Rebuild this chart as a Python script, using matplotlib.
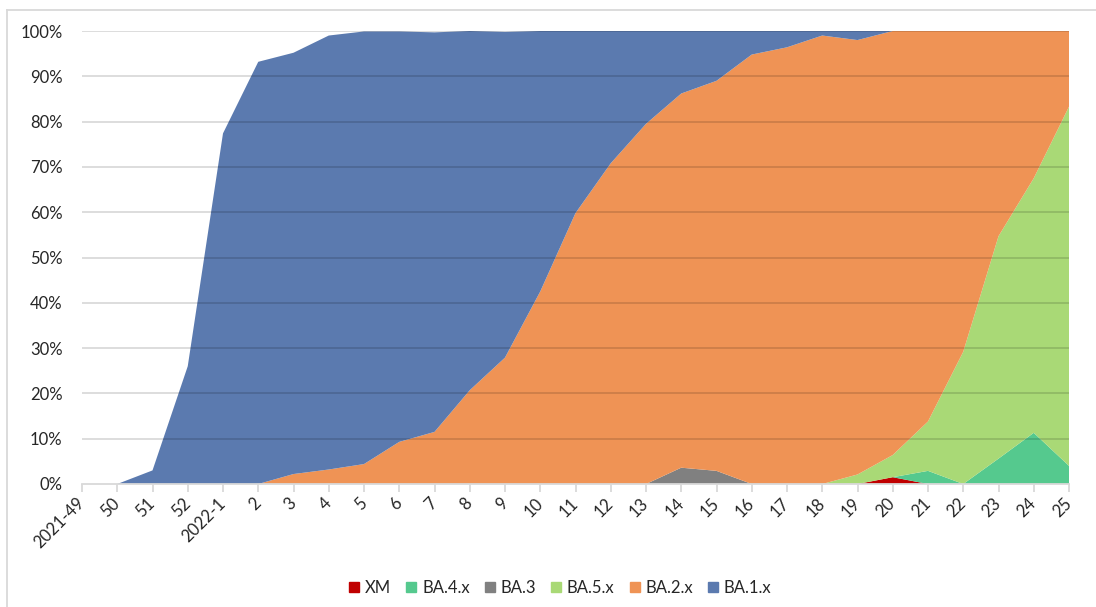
import numpy as np
import matplotlib
matplotlib.use("Agg")
import matplotlib.pyplot as plt
from matplotlib.ticker import PercentFormatter
from matplotlib.lines import Line2D

plt.rcParams["font.family"] = ["Lato", "DejaVu Sans"]

weeks = ["2021-49", "50", "51", "52", "2022-1"] + [str(w) for w in range(2, 26)]

# weekly share per lineage, in percent
#            49 50 51 52 1  2  3  4  5  6  7  8  9 10 11 12 13 14   15   16 17 18 19   20   21   22   23   24   25
xm =       [0, 0, 0, 0, 0, 0, 0, 0, 0, 0, 0, 0, 0, 0, 0, 0, 0, 0,   0,   0, 0, 0, 0,   1.5, 0,   0,   0,   0,   0]
ba4 =      [0, 0, 0, 0, 0, 0, 0, 0, 0, 0, 0, 0, 0, 0, 0, 0, 0, 0,   0,   0, 0, 0, 0,   0,   2.9, 0,   5.6, 11.3, 4.0]
ba3 =      [0, 0, 0, 0, 0, 0, 0, 0, 0, 0, 0, 0, 0, 0, 0, 0, 0, 3.6, 2.9, 0, 0, 0, 0,   0,   0,   0,   0,   0,   0]
ba5 =      [0, 0, 0, 0, 0, 0, 0, 0, 0, 0, 0, 0, 0, 0, 0, 0, 0, 0,   0,   0, 0, 0, 2.1, 4.9, 10.9, 29.2, 49.1, 56.2, 79.3]
ba2 = [0, 0, 0, 0, 0, 0, 2.2, 3.2, 4.4, 9.3, 11.5, 20.7, 27.9, 42.5, 59.8, 70.8, 79.5, 82.6,
       86.1, 94.8, 96.4, 99.0, 95.9, 93.6, 86.2, 70.8, 45.3, 32.5, 16.7]
ba1 = [0, 0, 3.0, 26.0, 77.4, 93.2, 93.0, 95.8, 95.5, 90.6, 88.2, 79.3, 71.9, 57.5, 40.2, 29.2,
       20.5, 13.8, 11.0, 5.2, 3.6, 1.0, 2.0, 0, 0, 0, 0, 0, 0]

labels = ["XM", "BA.4.x", "BA.3", "BA.5.x", "BA.2.x", "BA.1.x"]
colors = ["#c00000", "#55c98e", "#808080", "#a9d976", "#ef9355", "#5b7aaf"]

series = np.array([xm, ba4, ba3, ba5, ba2, ba1]) / 100.0
x = np.arange(len(weeks))

fig = plt.figure(figsize=(10.96, 6.07), dpi=100)
ax = fig.add_axes([82 / 1096, 1 - 484 / 607, 987 / 1096, 453 / 607])

ax.stackplot(x, series, colors=colors, linewidth=0, zorder=2)

# gridlines drawn over the fills, faint enough to read through
for v in np.arange(0.1, 1.01, 0.1):
    ax.axhline(v, color="black", alpha=0.15, lw=1.3, zorder=3)

ax.set_xlim(0, len(weeks) - 1)
ax.set_ylim(0, 1)
ax.set_yticks(np.arange(0, 1.01, 0.1))
ax.yaxis.set_major_formatter(PercentFormatter(1.0, decimals=0))
ax.set_xticks(x)
ax.set_xticklabels(weeks, rotation=45, ha="right", va="center", rotation_mode="anchor")

for s in ["top", "right", "left"]:
    ax.spines[s].set_visible(False)
ax.spines["bottom"].set_color("#d9d9d9")
ax.spines["bottom"].set_linewidth(1.3)
ax.spines["bottom"].set_zorder(4)
ax.tick_params(axis="y", length=0, pad=14, labelsize=12, labelcolor="#262626")
ax.tick_params(axis="x", length=6, width=1.3, color="#d9d9d9", pad=6, labelsize=12,
               labelcolor="#262626")

# chart frame
fig.add_artist(Line2D([7 / 1096, 7 / 1096], [0, 1 - 10 / 607], transform=fig.transFigure,
                      color="#d9d9d9", lw=1.3))
fig.add_artist(Line2D([7 / 1096, 1], [1 - 10 / 607, 1 - 10 / 607], transform=fig.transFigure,
                      color="#d9d9d9", lw=1.3))

handles = [plt.Line2D([], [], marker="s", ls="", markersize=7, color=c) for c in colors]
fig.legend(handles, labels, loc="center", bbox_to_anchor=(560 / 1096, 1 - 588 / 607), ncol=6,
           frameon=False, fontsize=12, handlelength=0.7, handletextpad=0.3,
           columnspacing=0.85, labelcolor="#262626")

fig.savefig("out.png", dpi=100)
